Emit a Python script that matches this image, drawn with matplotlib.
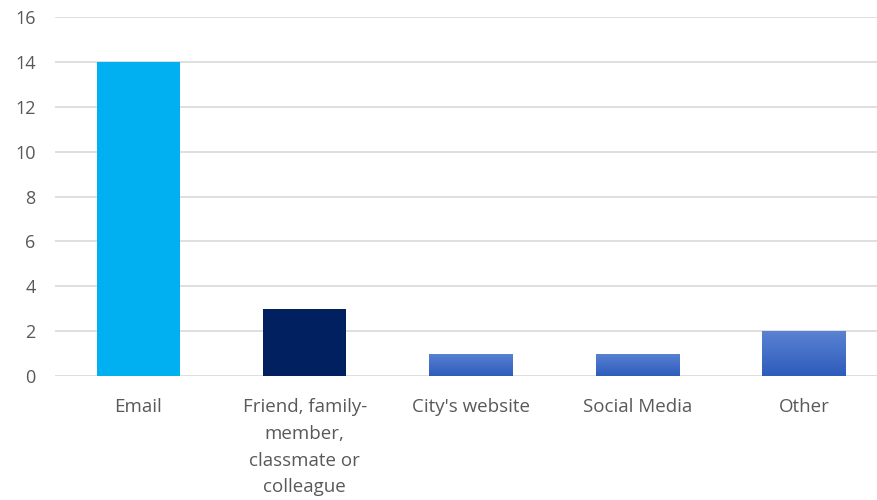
import numpy as np
import matplotlib.pyplot as plt
from matplotlib.colors import LinearSegmentedColormap

categories = ["Email", "Friend, family-\nmember,\nclassmate or\ncolleague",
              "City's website", "Social Media", "Other"]
values = [14, 3, 1, 1, 2]
yticks = [0, 2, 4, 6, 8, 10, 12, 14, 16]

plt.rcParams['font.family'] = ['Open Sans', 'DejaVu Sans']

fig = plt.figure(figsize=(8.78, 5), dpi=100)
ax = fig.add_axes([55/878, 124/500, 823/878, 359/500])

x = np.arange(len(categories))
bars = ax.bar(x, values, width=0.5, zorder=3)

solid = {0: "#00B0F0", 1: "#002060"}
grad = LinearSegmentedColormap.from_list("g", ["#2d5cbc", "#5a82d2"])
for i, b in enumerate(bars):
    if i in solid:
        b.set_facecolor(solid[i])
    else:
        b.set_facecolor("none")
        b.set_edgecolor("none")
        x0, y0 = b.get_x(), b.get_y()
        w, h = b.get_width(), b.get_height()
        img = ax.imshow(np.linspace(0, 1, 64).reshape(-1, 1), cmap=grad,
                        extent=(x0, x0 + w, y0, y0 + h), origin="lower",
                        aspect="auto", zorder=3)
        img.set_clip_path(b)

ax.set_xlim(-0.5, 4.445)
ax.set_ylim(0, 16)
ax.set_yticks(yticks)
ax.set_xticks(x)
ax.set_xticklabels(categories, linespacing=1.62, va="top")
ax.grid(axis="y", color="#d9d9d9", linewidth=1.2, zorder=0)
for s in ax.spines.values():
    s.set_visible(False)
ax.tick_params(axis="both", length=0, labelcolor="#595959")
ax.tick_params(axis="x", pad=16, labelsize=13.5)
ax.tick_params(axis="y", pad=14, labelsize=13)
for t in ax.get_yticklabels():
    t.set_horizontalalignment("right")

plt.savefig("out.png", dpi=100)
